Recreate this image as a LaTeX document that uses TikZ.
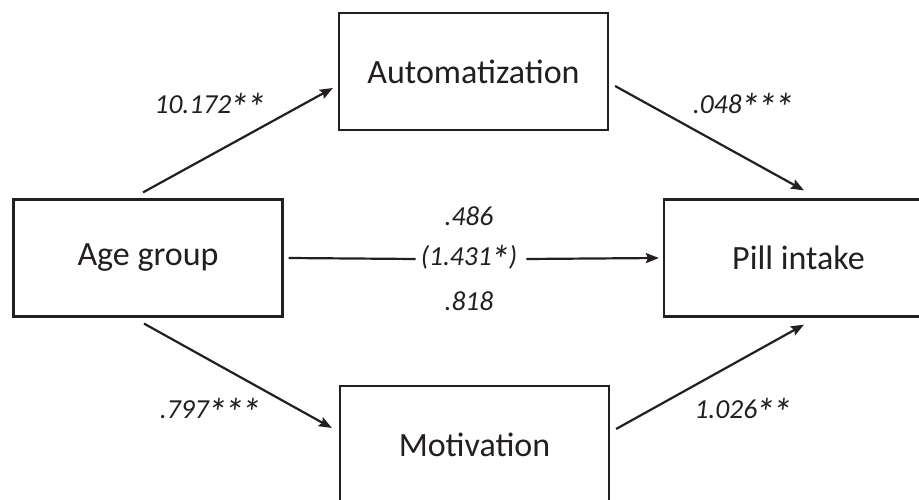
\documentclass[tikz,border=0pt]{standalone}
\usepackage{fontspec}
\usepackage{graphicx}
\setmainfont{Carlito}
\usetikzlibrary{calc,arrows.meta}
\definecolor{ink}{HTML}{231F20}
\newcommand\stm{\kern-0.05em\raisebox{-0.26em}{\scalebox{1.45}{*}}\kern-0.05em}
\tikzset{
  boxnode/.style={draw=ink, line width=2.2pt, minimum width=269pt, minimum height=117pt, inner sep=0pt, font=\fontsize{34}{40}\selectfont, text=ink},
  lbl/.style={font=\fontsize{27.5}{32}\selectfont\itshape, text=ink, inner sep=0pt},
  conn/.style={draw=ink, line width=2.2pt, -{Stealth[length=13pt,width=10pt,inset=2pt]}},
  plainline/.style={draw=ink, line width=2.2pt}
}
\begin{document}
\begin{tikzpicture}[x=1pt,y=-1pt]
\useasboundingbox (0,0) rectangle (919,500);
\clip (0,0) rectangle (919,500);
\fill[white] (0,0) rectangle (919,500);
\node[boxnode] (age) at (148,258) {Age group};
\node[boxnode] (auto) at (473.5,71.5) {Automatization};
\node[boxnode] (mot) at (474.5,444.5) {Motivation};
\node[boxnode] (pill) at (798.5,258) {Pill intake};
\node[lbl] (lab1) at (210,107) {10.172\stm\stm};
\node[lbl] (lab2) at (743,107) {.048\stm\stm\stm};
\node[lbl] (lab3) at (210,412) {.797\stm\stm\stm};
\node[lbl] (lab4) at (743,412) {1.026\stm\stm};
\node[lbl] (mid) at (469,259) {(1.431\stm)};
\node[lbl] (top) at (469,216) {.486};
\node[lbl] (bot) at (469,301) {.818};
\draw[conn] ($(age.north)+(-5,-6)$) -- ($(auto.west)+(-5,16.5)$);
\draw[conn] ($(auto.east)+(6,14.5)$) -- ($(pill.north)+(5.5,-8)$);
\draw[conn] ($(age.south)+(-4,6)$) -- ($(mot.west)+(-7,-16.5)$);
\draw[conn] ($(mot.east)+(6,-15.5)$) -- ($(pill.south)+(5.5,7)$);
\draw[plainline] ($(age.east)+(5,0)$) -- ($(mid.west)+(-5,0)$);
\draw[conn] ($(mid.east)+(9,0)$) -- ($(pill.west)+(-4,0)$);
\end{tikzpicture}
\end{document}
